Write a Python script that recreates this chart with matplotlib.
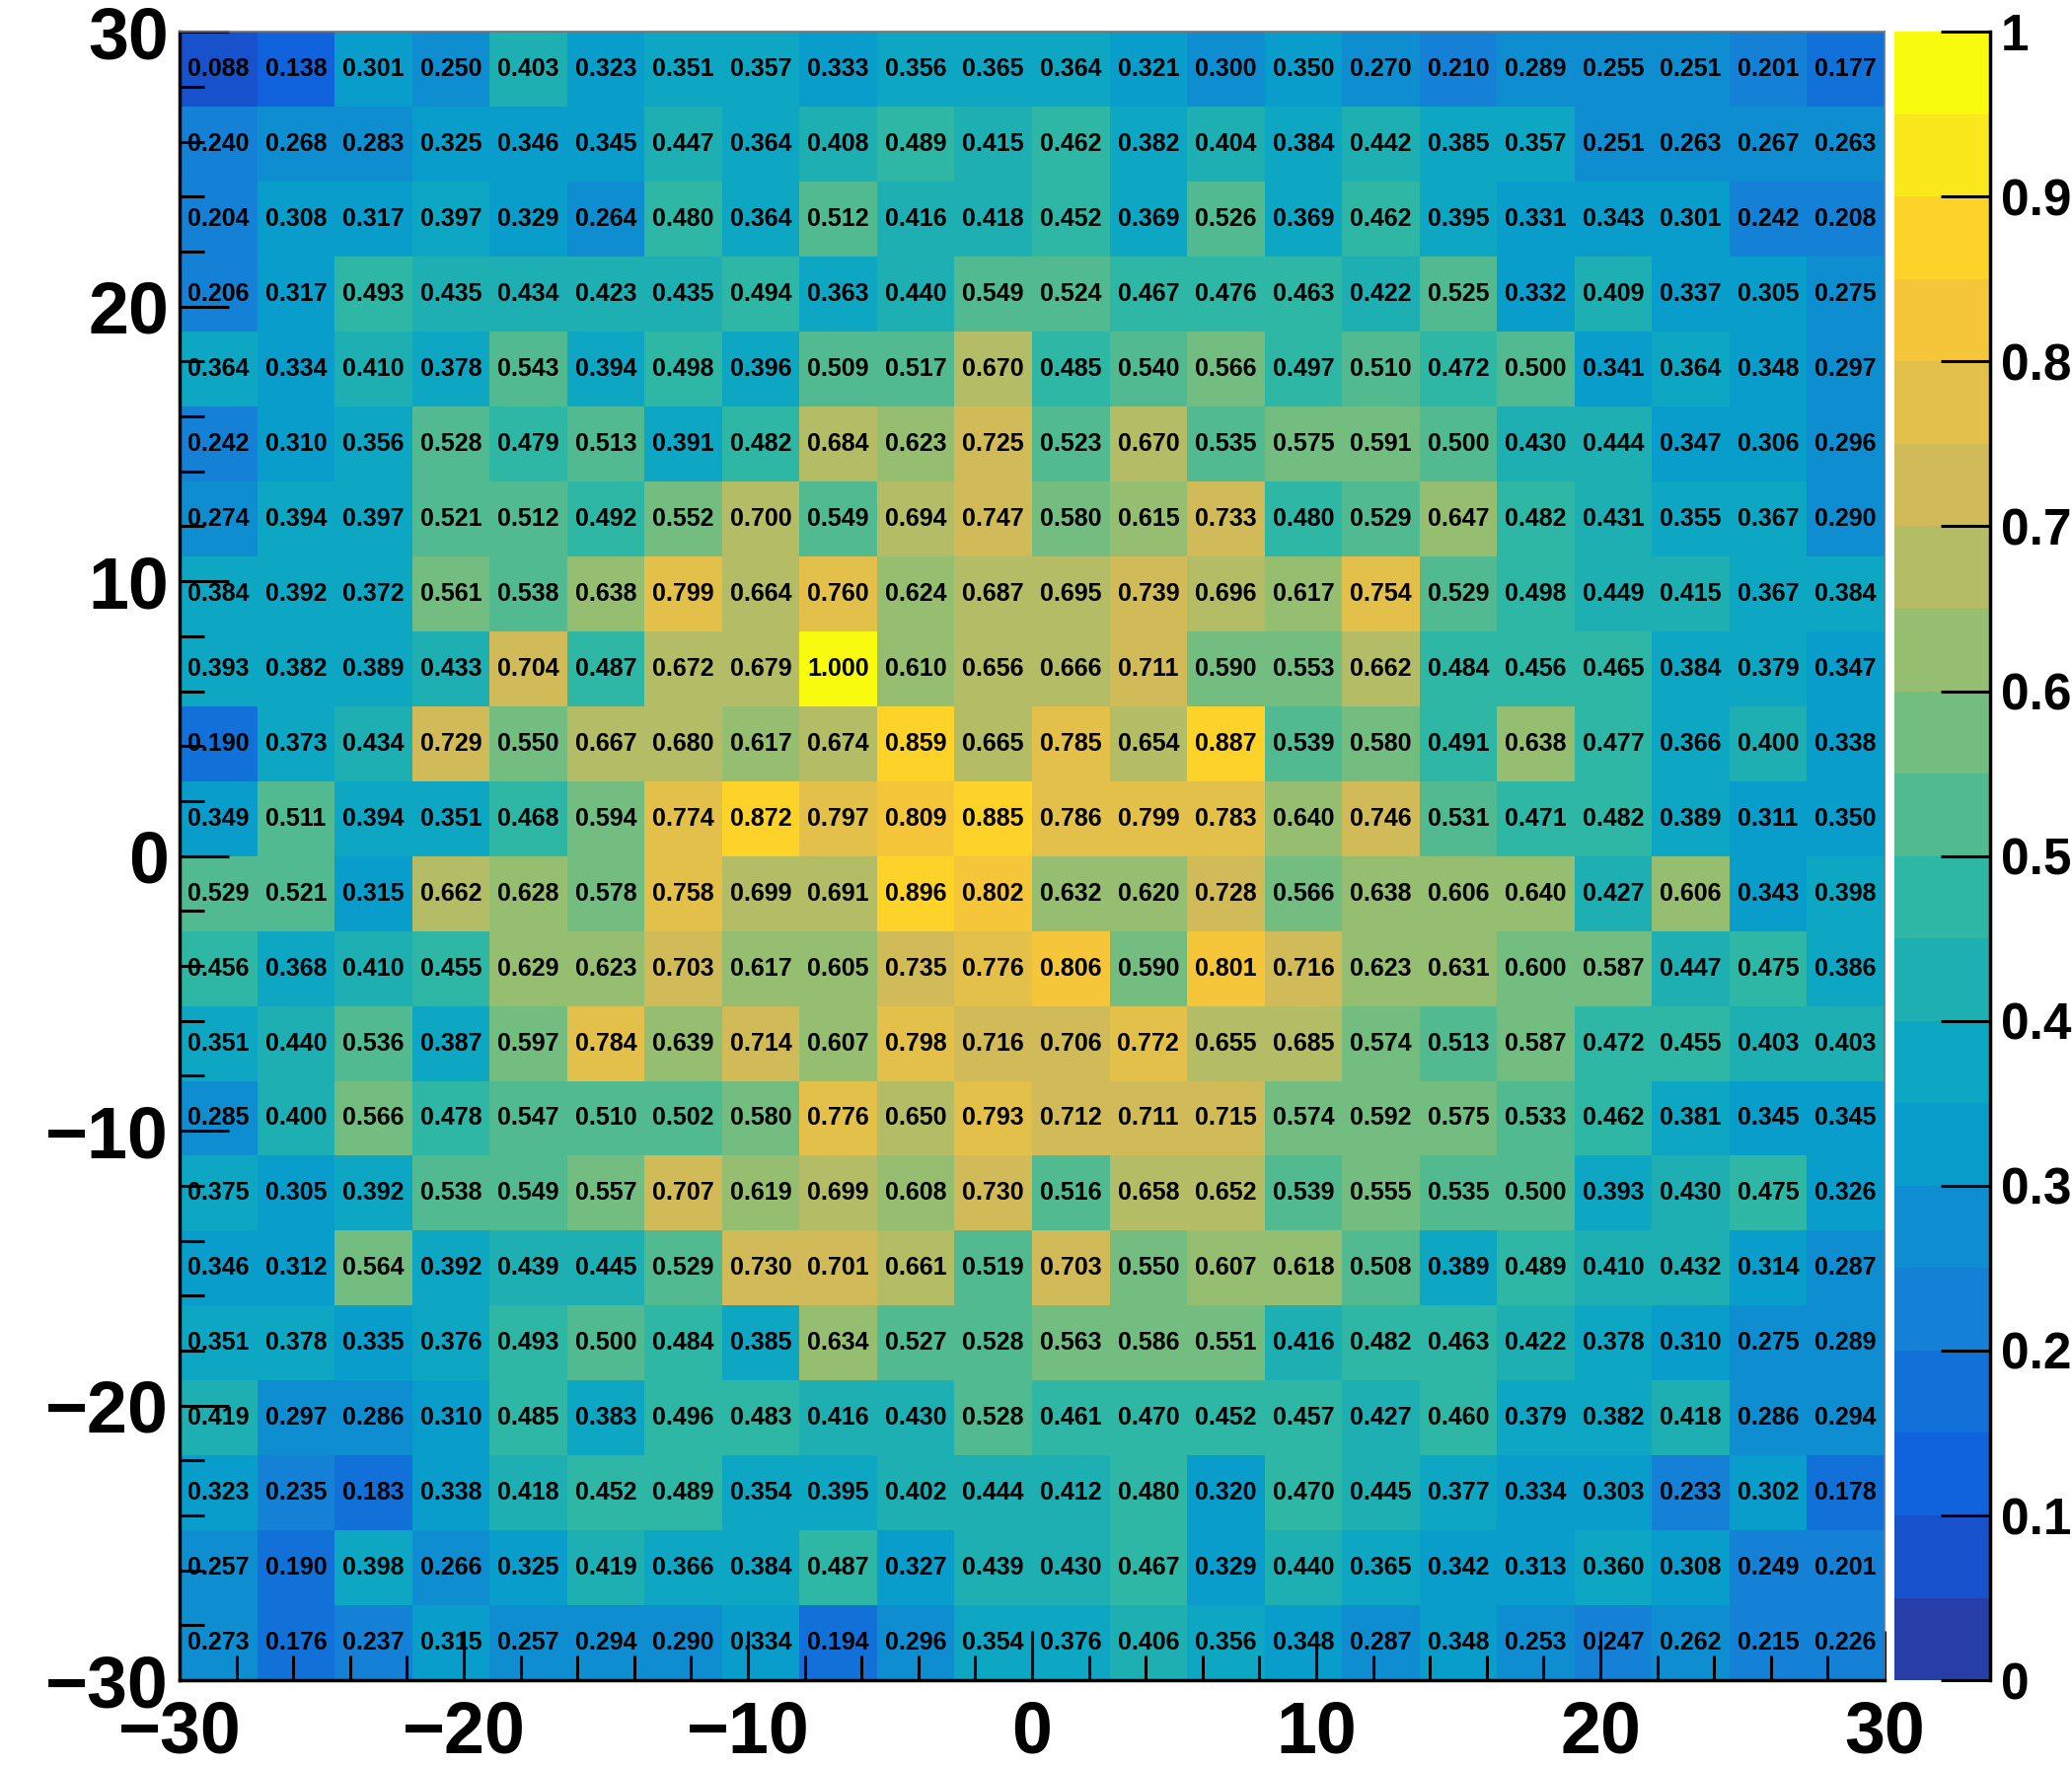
import numpy as np
import matplotlib
matplotlib.use("Agg")
import matplotlib.pyplot as plt
from matplotlib.colors import LinearSegmentedColormap, ListedColormap, BoundaryNorm

# bin edges (22 x 22 bins from -30 to 30)
x_edges = np.linspace(-30, 30, 23)
y_edges = np.linspace(-30, 30, 23)

# cell values, rows listed from top (y=30) to bottom (y=-30)
rows_top_down = [
    [0.088, 0.138, 0.301, 0.250, 0.403, 0.323, 0.351, 0.357, 0.333, 0.356, 0.365, 0.364, 0.321, 0.300, 0.350, 0.270, 0.210, 0.289, 0.255, 0.251, 0.201, 0.177],
    [0.240, 0.268, 0.283, 0.325, 0.346, 0.345, 0.447, 0.364, 0.408, 0.489, 0.415, 0.462, 0.382, 0.404, 0.384, 0.442, 0.385, 0.357, 0.251, 0.263, 0.267, 0.263],
    [0.204, 0.308, 0.317, 0.397, 0.329, 0.264, 0.480, 0.364, 0.512, 0.416, 0.418, 0.452, 0.369, 0.526, 0.369, 0.462, 0.395, 0.331, 0.343, 0.301, 0.242, 0.208],
    [0.206, 0.317, 0.493, 0.435, 0.434, 0.423, 0.435, 0.494, 0.363, 0.440, 0.549, 0.524, 0.467, 0.476, 0.463, 0.422, 0.525, 0.332, 0.409, 0.337, 0.305, 0.275],
    [0.364, 0.334, 0.410, 0.378, 0.543, 0.394, 0.498, 0.396, 0.509, 0.517, 0.670, 0.485, 0.540, 0.566, 0.497, 0.510, 0.472, 0.500, 0.341, 0.364, 0.348, 0.297],
    [0.242, 0.310, 0.356, 0.528, 0.479, 0.513, 0.391, 0.482, 0.684, 0.623, 0.725, 0.523, 0.670, 0.535, 0.575, 0.591, 0.500, 0.430, 0.444, 0.347, 0.306, 0.296],
    [0.274, 0.394, 0.397, 0.521, 0.512, 0.492, 0.552, 0.700, 0.549, 0.694, 0.747, 0.580, 0.615, 0.733, 0.480, 0.529, 0.647, 0.482, 0.431, 0.355, 0.367, 0.290],
    [0.384, 0.392, 0.372, 0.561, 0.538, 0.638, 0.799, 0.664, 0.760, 0.624, 0.687, 0.695, 0.739, 0.696, 0.617, 0.754, 0.529, 0.498, 0.449, 0.415, 0.367, 0.384],
    [0.393, 0.382, 0.389, 0.433, 0.704, 0.487, 0.672, 0.679, 1.000, 0.610, 0.656, 0.666, 0.711, 0.590, 0.553, 0.662, 0.484, 0.456, 0.465, 0.384, 0.379, 0.347],
    [0.190, 0.373, 0.434, 0.729, 0.550, 0.667, 0.680, 0.617, 0.674, 0.859, 0.665, 0.785, 0.654, 0.887, 0.539, 0.580, 0.491, 0.638, 0.477, 0.366, 0.400, 0.338],
    [0.349, 0.511, 0.394, 0.351, 0.468, 0.594, 0.774, 0.872, 0.797, 0.809, 0.885, 0.786, 0.799, 0.783, 0.640, 0.746, 0.531, 0.471, 0.482, 0.389, 0.311, 0.350],
    [0.529, 0.521, 0.315, 0.662, 0.628, 0.578, 0.758, 0.699, 0.691, 0.896, 0.802, 0.632, 0.620, 0.728, 0.566, 0.638, 0.606, 0.640, 0.427, 0.606, 0.343, 0.398],
    [0.456, 0.368, 0.410, 0.455, 0.629, 0.623, 0.703, 0.617, 0.605, 0.735, 0.776, 0.806, 0.590, 0.801, 0.716, 0.623, 0.631, 0.600, 0.587, 0.447, 0.475, 0.386],
    [0.351, 0.440, 0.536, 0.387, 0.597, 0.784, 0.639, 0.714, 0.607, 0.798, 0.716, 0.706, 0.772, 0.655, 0.685, 0.574, 0.513, 0.587, 0.472, 0.455, 0.403, 0.403],
    [0.285, 0.400, 0.566, 0.478, 0.547, 0.510, 0.502, 0.580, 0.776, 0.650, 0.793, 0.712, 0.711, 0.715, 0.574, 0.592, 0.575, 0.533, 0.462, 0.381, 0.345, 0.345],
    [0.375, 0.305, 0.392, 0.538, 0.549, 0.557, 0.707, 0.619, 0.699, 0.608, 0.730, 0.516, 0.658, 0.652, 0.539, 0.555, 0.535, 0.500, 0.393, 0.430, 0.475, 0.326],
    [0.346, 0.312, 0.564, 0.392, 0.439, 0.445, 0.529, 0.730, 0.701, 0.661, 0.519, 0.703, 0.550, 0.607, 0.618, 0.508, 0.389, 0.489, 0.410, 0.432, 0.314, 0.287],
    [0.351, 0.378, 0.335, 0.376, 0.493, 0.500, 0.484, 0.385, 0.634, 0.527, 0.528, 0.563, 0.586, 0.551, 0.416, 0.482, 0.463, 0.422, 0.378, 0.310, 0.275, 0.289],
    [0.419, 0.297, 0.286, 0.310, 0.485, 0.383, 0.496, 0.483, 0.416, 0.430, 0.528, 0.461, 0.470, 0.452, 0.457, 0.427, 0.460, 0.379, 0.382, 0.418, 0.286, 0.294],
    [0.323, 0.235, 0.183, 0.338, 0.418, 0.452, 0.489, 0.354, 0.395, 0.402, 0.444, 0.412, 0.480, 0.320, 0.470, 0.445, 0.377, 0.334, 0.303, 0.233, 0.302, 0.178],
    [0.257, 0.190, 0.398, 0.266, 0.325, 0.419, 0.366, 0.384, 0.487, 0.327, 0.439, 0.430, 0.467, 0.329, 0.440, 0.365, 0.342, 0.313, 0.360, 0.308, 0.249, 0.201],
    [0.273, 0.176, 0.237, 0.315, 0.257, 0.294, 0.290, 0.334, 0.194, 0.296, 0.354, 0.376, 0.406, 0.356, 0.348, 0.287, 0.348, 0.253, 0.247, 0.262, 0.215, 0.226],
]

x_ticks = [-30, -20, -10, 0, 10, 20, 30]
y_ticks = [-30, -20, -10, 0, 10, 20, 30]
z_ticks = [0, 0.1, 0.2, 0.3, 0.4, 0.5, 0.6, 0.7, 0.8, 0.9, 1]
z_tick_labels = ["0", "0.1", "0.2", "0.3", "0.4", "0.5", "0.6", "0.7", "0.8", "0.9", "1"]

z = np.array(rows_top_down)[::-1]  # bottom row first for pcolormesh

# ROOT "bird" palette, 20 contour levels
stops = [0.0, 0.125, 0.25, 0.375, 0.5, 0.625, 0.75, 0.875, 1.0]
red = [0.2082, 0.0592, 0.0780, 0.0232, 0.1802, 0.5301, 0.8186, 0.9956, 0.9764]
green = [0.1664, 0.3599, 0.5041, 0.6419, 0.7178, 0.7492, 0.7328, 0.7862, 0.9832]
blue = [0.5293, 0.8684, 0.8385, 0.7914, 0.6425, 0.4662, 0.3499, 0.1968, 0.0539]
bird = LinearSegmentedColormap.from_list("bird", list(zip(stops, zip(red, green, blue))), N=255)
ncont = 20
level_cols = [bird(min(int((i + 0.99) * 255 / ncont), 254) / 254.0) for i in range(ncont)]
cmap = ListedColormap(level_cols)
cmap.set_over(level_cols[-1])
levels = np.linspace(0, 1, ncont + 1)
norm = BoundaryNorm(levels, cmap.N)

fam = ["Liberation Sans Narrow", "Liberation Sans", "DejaVu Sans"]

fig = plt.figure(figsize=(21, 17.89), dpi=100)
ax = fig.add_axes([0.0867, 0.048, 0.8228, 0.934])
mesh = ax.pcolormesh(x_edges, y_edges, z, cmap=cmap, norm=norm)

xc = (x_edges[:-1] + x_edges[1:]) / 2
yc = (y_edges[:-1] + y_edges[1:]) / 2
for j in range(len(yc)):
    for i in range(len(xc)):
        ax.text(xc[i], yc[j], "%.3f" % z[j, i], ha="center", va="center",
                fontsize=18, fontweight="bold", family=fam, color="black")

ax.set_xlim(-30, 30)
ax.set_ylim(-30, 30)
ax.set_xticks(x_ticks)
ax.set_yticks(y_ticks)
ax.set_xticks(np.arange(-30, 31, 2), minor=True)
ax.set_yticks(np.arange(-30, 31, 2), minor=True)
ax.tick_params(which="major", direction="in", length=36, width=2.2, labelsize=53)
ax.tick_params(axis="x", which="major", pad=14)
ax.tick_params(axis="y", which="major", pad=8)
ax.tick_params(which="minor", direction="in", length=18, width=2.2)
ax.tick_params(top=False, right=False, which="both")
for lab in ax.get_xticklabels() + ax.get_yticklabels():
    lab.set_family(fam)
    lab.set_fontweight("bold")

for s in ["left", "bottom"]:
    ax.spines[s].set_linewidth(2.5)
    ax.spines[s].set_color("black")
for s in ["top", "right"]:
    ax.spines[s].set_linewidth(1.2)
    ax.spines[s].set_color("#777777")

# palette axis
cax = fig.add_axes([0.9145, 0.048, 0.046, 0.934])
cb = fig.colorbar(mesh, cax=cax, ticks=z_ticks)
cb.outline.set_visible(False)
cax.set_yticklabels(z_tick_labels)
cax.tick_params(direction="in", length=36, width=2.2, labelsize=37, pad=8, right=True)
cax.minorticks_off()
cax.spines["right"].set_visible(True)
cax.spines["right"].set_linewidth(2.5)
for lab in cax.get_yticklabels():
    lab.set_family(fam)
    lab.set_fontweight("bold")

fig.savefig("out.png", dpi=100)
